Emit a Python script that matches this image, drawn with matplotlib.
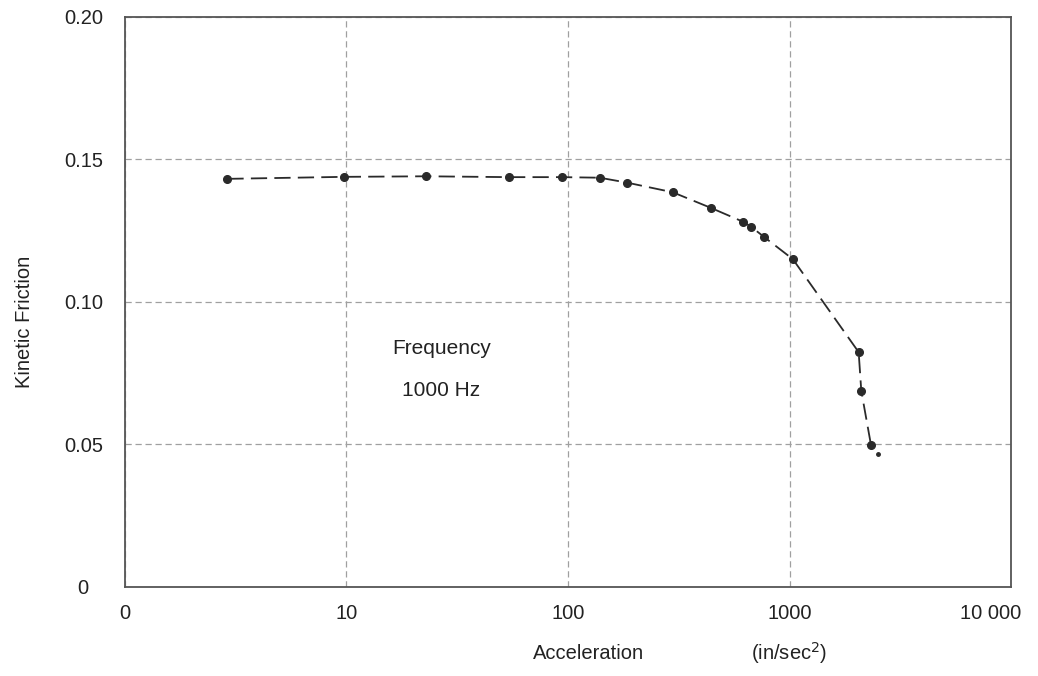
import numpy as np
import matplotlib
matplotlib.use('Agg')
import matplotlib.pyplot as plt
from matplotlib.transforms import ScaledTranslation

plt.rcParams['font.family'] = ['Liberation Sans', 'DejaVu Sans']

ACCEL = [2.9, 9.7, 22.9, 54, 94, 139, 184, 297, 442, 615, 671, 771, 1036, 2052, 2109, 2333]
FRICTION = [0.1432, 0.1439, 0.1441, 0.1438, 0.1438, 0.1436, 0.1419, 0.1385, 0.1330,
            0.1282, 0.1264, 0.1227, 0.1150, 0.0824, 0.0688, 0.0498]
STRAY_ACCEL = [2512]
STRAY_FRICTION = [0.0467]

X_TICKS = [1, 10, 100, 1000, 10000]
X_TICK_LABELS = ['0', '10', '100', '1000', '10 000']
Y_TICKS = [0, 0.05, 0.10, 0.15, 0.20]
Y_TICK_LABELS = ['0', '0.05', '0.10', '0.15', '0.20']

INK = '#2a2a2a'
GRID = '#a0a0a0'
TEXT = '#222222'


def style_axes(fig, ax):
    ax.set_xscale('log')
    ax.set_xlim(1, 10000)
    ax.set_ylim(0, 0.20)
    ax.set_xticks(X_TICKS)
    ax.set_xticklabels(X_TICK_LABELS)
    ax.set_yticks(Y_TICKS)
    ax.set_yticklabels(Y_TICK_LABELS)
    ax.xaxis.set_minor_locator(plt.NullLocator())
    ax.tick_params(axis='both', length=0, labelsize=14.5, colors=TEXT)
    ax.tick_params(axis='x', pad=12)
    ax.tick_params(axis='y', pad=30)
    for lab in ax.get_yticklabels():
        lab.set_horizontalalignment('center')
    # last x label is pulled in from the edge
    last = ax.get_xticklabels()[-1]
    last.set_transform(last.get_transform() + ScaledTranslation(-0.2, 0, fig.dpi_scale_trans))
    ax.grid(True, color=GRID, linestyle=(0, (5, 3)), linewidth=0.9)
    for side in ax.spines.values():
        side.set_color('#555555')
        side.set_linewidth(1.3)


def draw_data(ax):
    ax.plot(ACCEL, FRICTION, color=INK, linewidth=1.3, dashes=(9, 4),
            marker='o', markersize=5.5, markerfacecolor=INK, markeredgecolor=INK)
    ax.plot(STRAY_ACCEL, STRAY_FRICTION, linestyle='none', marker='o',
            markersize=2.5, color=INK)


def label_axes(ax):
    ax.set_ylabel('Kinetic Friction', fontsize=14.5, color=TEXT)
    ax.yaxis.set_label_coords(-0.103, 0.465)
    ax.text(124, -0.116, 'Acceleration', transform=ax.get_xaxis_transform(),
            ha='center', va='center', fontsize=14.5, color=TEXT)
    ax.text(1000, -0.116, '(in/sec$^2$)', transform=ax.get_xaxis_transform(),
            ha='center', va='center', fontsize=14.5, color=TEXT)
    ax.text(26.8, 0.0835, 'Frequency', ha='center', va='center', fontsize=15, color=TEXT)
    ax.text(26.8, 0.0691, '1000 Hz', ha='center', va='center', fontsize=15, color=TEXT)


def main():
    fig = plt.figure(figsize=(10.38, 6.76), dpi=100)
    ax = fig.add_axes([0.1204, 0.1317, 0.8536, 0.8432])
    style_axes(fig, ax)
    draw_data(ax)
    label_axes(ax)
    fig.savefig('out.png', dpi=100, facecolor='white')


if __name__ == '__main__':
    main()
